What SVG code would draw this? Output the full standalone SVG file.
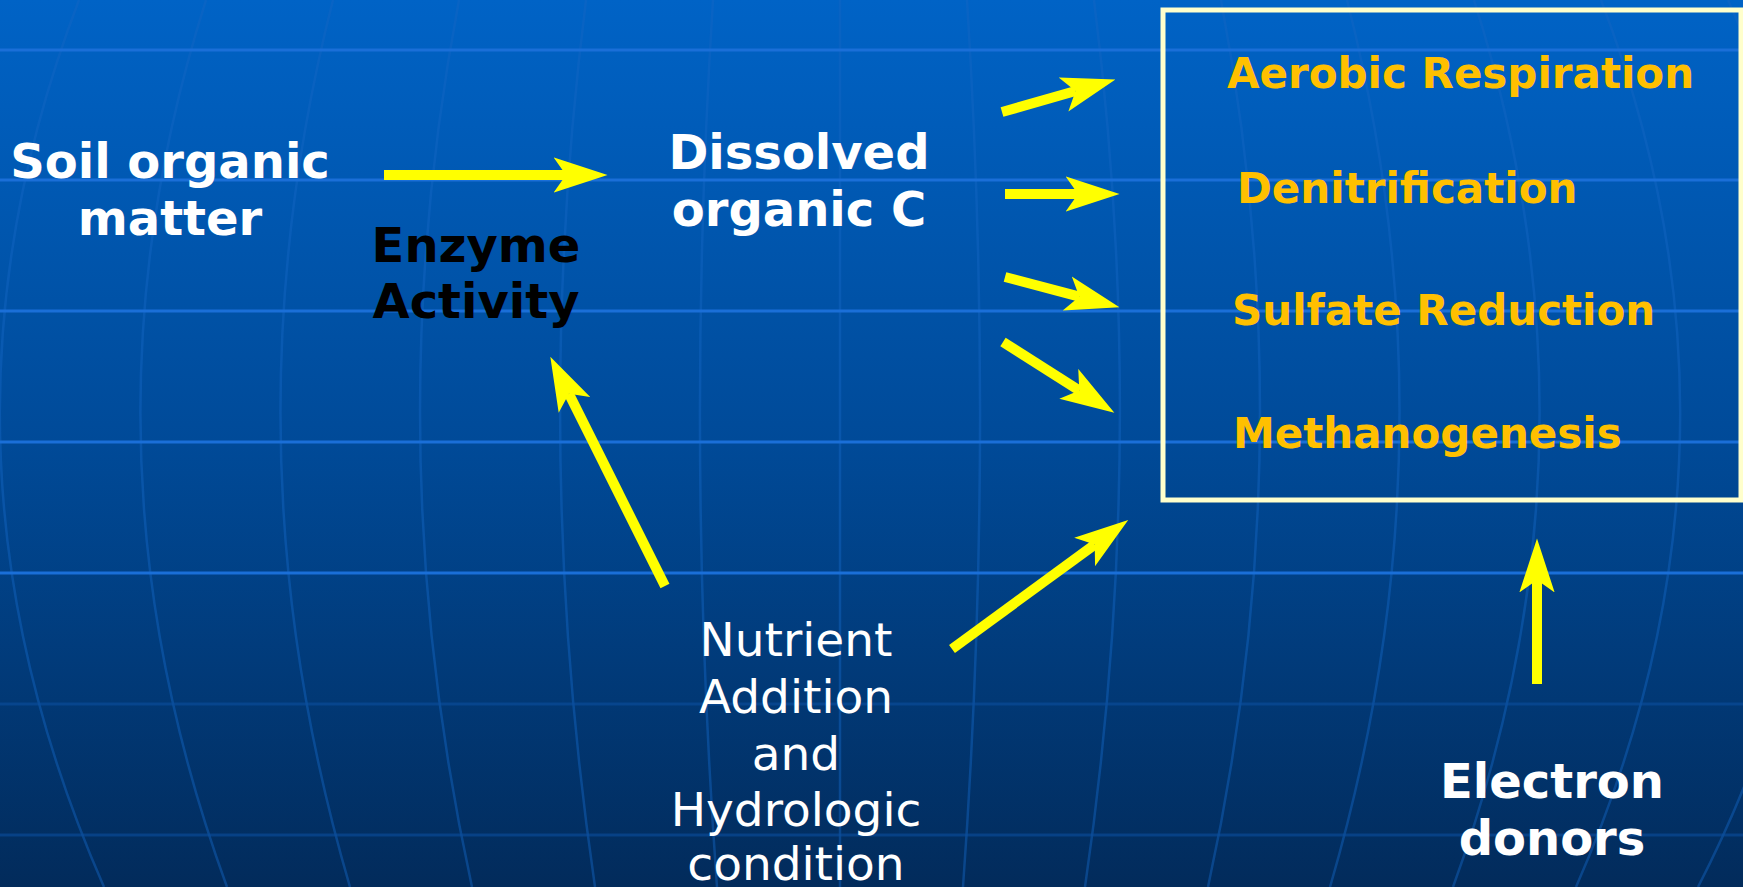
<svg xmlns="http://www.w3.org/2000/svg" width="1743" height="887" viewBox="0 0 1743 887">
<defs>
<linearGradient id="bg" x1="0" y1="0" x2="0" y2="1">
<stop offset="0" stop-color="#0063c6"/>
<stop offset="0.5" stop-color="#004a98"/>
<stop offset="1" stop-color="#022b5b"/>
</linearGradient>
<marker id="head" markerUnits="userSpaceOnUse" markerWidth="54" markerHeight="36" viewBox="0 0 52 34" refX="12" refY="17" orient="auto">
<path d="M52,17 L0,0 L12,17 L0,34 Z" fill="#ffff00"/>
</marker>
<style>
.hl{stroke:#1a6fd8;stroke-width:3;fill:none}
.hd{stroke:#0b4f9e;stroke-width:3;fill:none;opacity:0.6}
.mer{stroke:#1466c4;stroke-width:2.5;fill:none;opacity:0.45}
.arr{stroke:#ffff00;stroke-width:10;fill:none;marker-end:url(#head)}
.lbl{font-family:"DejaVu Sans",Verdana,sans-serif;font-weight:bold;font-size:48px;text-anchor:middle}
.w{fill:#ffffff}
.k{fill:#000000}
.o{font-family:"DejaVu Sans",Verdana,sans-serif;font-weight:bold;font-size:42px;fill:#ffc000}
.reg{font-family:"DejaVu Sans",Verdana,sans-serif;font-size:47px;fill:#ffffff;text-anchor:middle}
</style>
</defs>
<g id="background">
<rect width="1743" height="887" fill="url(#bg)"/>
<path class="mer" d="M79,0 Q-91,443 104,887"/>
<path class="mer" d="M206,0 Q65,443 227,887"/>
<path class="mer" d="M333,0 Q220,443 350,887"/>
<path class="mer" d="M459,0 Q375,443 472,887"/>
<path class="mer" d="M586,0 Q530,443 595,887"/>
<path class="mer" d="M713,0 Q685,443 717,887"/>
<path class="mer" d="M840,0 L840,887"/>
<path class="mer" d="M967,0 Q995,443 963,887"/>
<path class="mer" d="M1094,0 Q1150,443 1085,887"/>
<path class="mer" d="M1221,0 Q1305,443 1208,887"/>
<path class="mer" d="M1347,0 Q1460,443 1330,887"/>
<path class="mer" d="M1474,0 Q1615,443 1453,887"/>
<path class="mer" d="M1601,0 Q1771,443 1576,887"/>
<path class="mer" d="M1728,0 Q1926,443 1698,887"/>
<line class="hl" x1="0" y1="50" x2="1743" y2="50"/>
<line class="hl" x1="0" y1="180" x2="1743" y2="180"/>
<line class="hl" x1="0" y1="311" x2="1743" y2="311"/>
<line class="hl" x1="0" y1="442" x2="1743" y2="442"/>
<line class="hl" x1="0" y1="573" x2="1743" y2="573"/>
<line class="hd" x1="0" y1="704" x2="1743" y2="704"/>
<line class="hd" x1="0" y1="835" x2="1743" y2="835"/>
</g>
<g id="connectors">
<line class="arr" x1="384" y1="175" x2="566" y2="175"/>
<line class="arr" x1="1002" y1="112" x2="1075.5" y2="91"/>
<line class="arr" x1="1005" y1="194" x2="1078" y2="194"/>
<line class="arr" x1="1005" y1="277" x2="1079.3" y2="296.7"/>
<line class="arr" x1="1003" y1="342" x2="1079.3" y2="390.5"/>
<line class="arr" x1="952" y1="649" x2="1094.7" y2="544.6"/>
<line class="arr" x1="665" y1="586" x2="568.9" y2="393.8"/>
<line class="arr" x1="1537" y1="684" x2="1537" y2="580"/>
</g>
<g id="soil">
<text class="lbl w" x="170" y="178">Soil organic</text>
<text class="lbl w" x="170" y="235">matter</text>
</g>
<g id="doc">
<text class="lbl w" x="799" y="169">Dissolved</text>
<text class="lbl w" x="799" y="226">organic C</text>
</g>
<g id="enzyme">
<text class="lbl k" x="476" y="262">Enzyme</text>
<text class="lbl k" x="476" y="318">Activity</text>
</g>
<g id="processes">
<rect x="1163" y="10" width="578" height="490" fill="none" stroke="#ffffcc" stroke-width="5"/>
<text class="o" x="1227" y="88">Aerobic Respiration</text>
<text class="o" x="1237" y="203">Denitrification</text>
<text class="o" x="1232" y="325">Sulfate Reduction</text>
<text class="o" x="1233" y="448">Methanogenesis</text>
</g>
<g id="nutrient">
<text class="reg" x="796" y="656">Nutrient</text>
<text class="reg" x="796" y="713">Addition</text>
<text class="reg" x="796" y="770">and</text>
<text class="reg" x="796" y="826">Hydrologic</text>
<text class="reg" x="796" y="880">condition</text>
</g>
<g id="electron">
<text class="lbl w" x="1552" y="798">Electron</text>
<text class="lbl w" x="1552" y="855">donors</text>
</g>
</svg>
